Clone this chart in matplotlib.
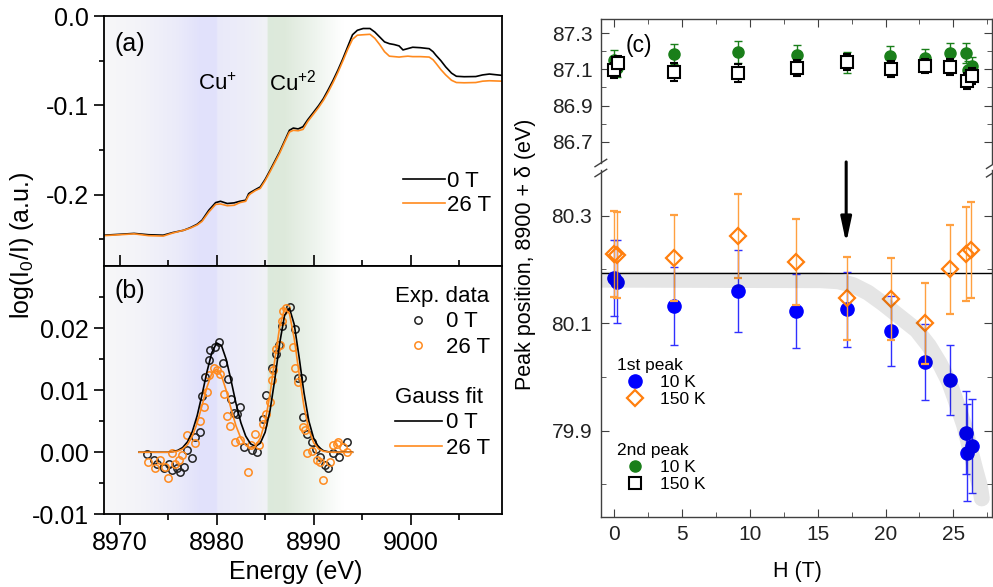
import matplotlib
matplotlib.use('Agg')
import matplotlib.pyplot as plt
import numpy as np
from matplotlib.lines import Line2D
from matplotlib.ticker import MultipleLocator, FixedLocator, FuncFormatter

plt.rcParams['font.family'] = ['Liberation Sans', 'DejaVu Sans']
plt.rcParams['mathtext.fontset'] = 'custom'
plt.rcParams['mathtext.rm'] = 'Liberation Sans'
plt.rcParams['mathtext.it'] = 'Liberation Sans:italic'
plt.rcParams['axes.unicode_minus'] = False

orange = '#ff8a1e'
blue = '#0000ff'
green = '#1a7f1a'

# ---- (a) XANES spectra ----
xas_energy = [8968.4, 8970.0, 8971.5, 8973.0, 8974.5, 8975.5, 8976.6, 8977.3, 8978.0, 8978.5,
              8979.2, 8979.9, 8980.4, 8981.1, 8981.8, 8982.4, 8983.0, 8983.3, 8983.5, 8984.0,
              8984.5, 8985.0, 8985.5, 8986.0, 8986.5, 8987.0, 8987.5, 8987.9, 8988.4, 8988.9,
              8989.4, 8989.9, 8990.5, 8991.0, 8991.5, 8992.0, 8992.5, 8993.0, 8993.5, 8994.0,
              8994.5, 8995.1, 8995.8, 8996.3, 8996.8, 8997.3, 8997.8, 8998.3, 8998.8, 8999.2,
              8999.7, 9000.2, 9001.0, 9001.9, 9002.3, 9002.6, 9003.1, 9003.6, 9004.2, 9004.7,
              9005.5, 9006.7, 9007.4, 9008.1, 9009.4]
xas_0T = [-0.2455, -0.2445, -0.2435, -0.2450, -0.2455, -0.2425, -0.2400, -0.2370, -0.2332, -0.2287,
          -0.2175, -0.2090, -0.2075, -0.2100, -0.2093, -0.2075, -0.2063, -0.1990, -0.1975, -0.1944,
          -0.1914, -0.1830, -0.1730, -0.1625, -0.1520, -0.1400, -0.1280, -0.1255, -0.1265, -0.1240,
          -0.1160, -0.1090, -0.1005, -0.0925, -0.0825, -0.0720, -0.0605, -0.0480, -0.0345, -0.0210,
          -0.0160, -0.0140, -0.0140, -0.0180, -0.0235, -0.0290, -0.0310, -0.0320, -0.0335, -0.0380,
          -0.0365, -0.0350, -0.0355, -0.0366, -0.0400, -0.0440, -0.0500, -0.0570, -0.0640, -0.0675,
          -0.0680, -0.0678, -0.0660, -0.0650, -0.0665]
xas_26T = [-0.2460, -0.2450, -0.2440, -0.2460, -0.2465, -0.2430, -0.2400, -0.2375, -0.2340, -0.2300,
           -0.2195, -0.2110, -0.2105, -0.2125, -0.2120, -0.2090, -0.2075, -0.2010, -0.1990, -0.1955,
           -0.1930, -0.1845, -0.1745, -0.1640, -0.1535, -0.1415, -0.1300, -0.1280, -0.1285, -0.1270,
           -0.1180, -0.1110, -0.1025, -0.0945, -0.0850, -0.0745, -0.0630, -0.0505, -0.0375, -0.0260,
           -0.0215, -0.0210, -0.0205, -0.0250, -0.0320, -0.0400, -0.0450, -0.0455, -0.0460, -0.0455,
           -0.0450, -0.0455, -0.0455, -0.0460, -0.0490, -0.0530, -0.0600, -0.0660, -0.0720, -0.0745,
           -0.0748, -0.0745, -0.0730, -0.0725, -0.0730]

# ---- (b) difference spectra and Gauss fits ----
diff_E_0T = [8972.84, 8973.60, 8973.87, 8974.56, 8975.07, 8975.41, 8975.93, 8976.27, 8976.61, 8976.95,
             8977.47, 8977.81, 8978.26, 8978.50, 8978.84, 8979.18, 8979.28, 8979.87, 8980.21, 8980.65,
             8981.13, 8981.48, 8981.75, 8982.09, 8982.37, 8982.78, 8983.63, 8984.15, 8984.83, 8985.11,
             8985.69, 8986.10, 8986.47, 8986.72, 8987.57, 8988.09, 8988.40, 8988.78, 8988.88, 8989.30,
             8989.80, 8990.20, 8990.66, 8991.17, 8991.51, 8992.03, 8992.64, 8993.40]
diff_0T = [-0.0003, -0.0013, -0.0019, -0.0026, -0.0019, -0.0029, -0.0025, -0.0032, -0.0024, 0.0003,
           -0.0009, 0.0025, 0.0033, 0.0090, 0.0121, 0.0148, 0.0165, 0.0170, 0.0177, 0.0143,
           0.0118, 0.0086, 0.0063, 0.0062, 0.0073, 0.0009, 0.0003, 0.0001, 0.0054, 0.0092,
           0.0135, 0.0158, 0.0172, 0.0204, 0.0234, 0.0199, 0.0119, 0.0119, 0.0057, 0.0030,
           0.0017, 0.0005, -0.0008, -0.0021, -0.0026, -0.0002, -0.0008, 0.0017]
diff_E_26T = [8972.95, 8973.70, 8974.21, 8974.66, 8975.00, 8975.41, 8975.76, 8976.10, 8976.44, 8976.95,
              8977.81, 8978.26, 8978.74, 8979.01, 8979.18, 8979.69, 8980.04, 8980.38, 8980.72, 8981.07,
              8981.41, 8981.92, 8982.44, 8983.19, 8983.57, 8983.98, 8984.32, 8984.83, 8985.11, 8985.45,
              8985.69, 8985.86, 8986.14, 8986.48, 8986.72, 8986.89, 8987.13, 8987.92, 8988.09, 8988.36,
              8988.95, 8989.12, 8989.29, 8989.80, 8990.32, 8990.66, 8990.93, 8991.68, 8992.03, 8992.37,
              8992.54, 8992.99, 8993.40]
diff_26T = [-0.0016, -0.0026, -0.0013, -0.0023, -0.0042, -0.0001, -0.0019, -0.0012, -0.0005, 0.0027,
            0.0015, 0.0051, 0.0073, 0.0097, 0.0124, 0.0135, 0.0132, 0.0126, 0.0094, 0.0059,
            0.0043, 0.0017, 0.0019, -0.0032, 0.0011, 0.0030, 0.0011, 0.0046, 0.0062, 0.0081,
            0.0116, 0.0132, 0.0167, 0.0172, 0.0212, 0.0228, 0.0233, 0.0169, 0.0135, 0.0113,
            0.0041, 0.0035, -0.0001, 0.0002, -0.0013, -0.0016, -0.0045, -0.0016, 0.0011, 0.0014,
            0.0017, 0.0009, 0.0001]
fit_E = np.arange(8972.0, 8994.5, 0.5)
fit_0T = [0, 0, 0, 0, 0, 0, 0,
          0.0001, 0.0003, 0.00075, 0.00167, 0.00333, 0.0059, 0.00927, 0.01292, 0.01601, 0.01761,
          0.01719, 0.0149, 0.01148, 0.00784, 0.00476, 0.00259, 0.00135, 0.00094, 0.00146, 0.00322,
          0.00667, 0.01179, 0.01759, 0.02204, 0.02322, 0.02056, 0.01531, 0.00958, 0.00504, 0.00223,
          0.00083, 0.00026, 0.00007,
          0, 0, 0, 0, 0]
fit_26T = [0, 0, 0, 0, 0, 0, 0,
           0.00006, 0.00019, 0.00051, 0.00123, 0.00258, 0.00472, 0.00753, 0.01046, 0.01268, 0.01339,
           0.01233, 0.0099, 0.00693, 0.00423, 0.00225, 0.00111, 0.00069, 0.00098, 0.00225, 0.00493,
           0.00934, 0.01494, 0.02021, 0.02312, 0.02236, 0.01828, 0.01263, 0.00738, 0.00365, 0.00152,
           0.00054, 0.00016, 0.00004,
           0, 0, 0, 0, 0]

# ---- (c) peak positions vs field ----
H_p1_10K = [0.0, 0.22, 4.42, 9.14, 13.42, 17.18, 20.38, 22.91, 24.76, 25.94, 26.03, 26.36]
p1_10K = [80.184, 80.177, 80.132, 80.160, 80.123, 80.126, 80.086, 80.028, 79.994, 79.896, 79.859, 79.872]
p1_10K_err = [0.071, 0.077, 0.072, 0.076, 0.069, 0.070, 0.065, 0.070, 0.065, 0.077, 0.090, 0.087]
H_p1_150K = [0.0, 0.22, 4.42, 9.14, 13.42, 17.18, 20.38, 22.91, 24.76, 25.94, 26.33]
p1_150K = [80.228, 80.227, 80.221, 80.262, 80.213, 80.146, 80.145, 80.100, 80.200, 80.229, 80.236]
p1_150K_err = [0.080, 0.080, 0.080, 0.078, 0.080, 0.078, 0.077, 0.075, 0.083, 0.088, 0.090]
H_p2_10K = [0.0, 0.22, 4.42, 9.14, 13.45, 17.18, 20.33, 22.91, 24.76, 25.90, 26.10, 26.36]
p2_10K = [87.150, 87.110, 87.184, 87.195, 87.180, 87.140, 87.174, 87.165, 87.189, 87.193, 87.097, 87.119]
p2_10K_err = [0.060, 0.050, 0.055, 0.060, 0.055, 0.058, 0.055, 0.050, 0.055, 0.055, 0.050, 0.050]
H_p2_150K = [0.0, 0.30, 4.42, 9.14, 13.45, 17.14, 20.38, 22.91, 24.76, 25.98, 26.36]
p2_150K = [87.095, 87.135, 87.084, 87.078, 87.109, 87.143, 87.102, 87.120, 87.115, 87.036, 87.065]
p2_150K_err = [0.040, 0.040, 0.050, 0.050, 0.045, 0.045, 0.045, 0.040, 0.045, 0.045, 0.045]
guide_H = [-1.0, 15.2, 16.5, 17.6, 18.7, 19.8, 21.0, 22.3, 23.2, 24.0, 24.7, 25.25, 25.8, 26.2, 26.6, 26.97, 27.1]
guide_v = [80.181, 80.180, 80.178, 80.171, 80.157, 80.137, 80.113, 80.087, 80.058, 80.025, 79.990,
           79.951, 79.910, 79.870, 79.830, 79.796, 79.774]
ref_level = 80.193
arrow_H = 17.1

W, H = 993, 587
fig = plt.figure(figsize=(W / 100, H / 100), dpi=100)


def box(x0, y0, x1, y1):
    return [x0 / W, 1 - y1 / H, (x1 - x0) / W, (y1 - y0) / H]


ax_a = fig.add_axes(box(104, 16, 502, 266))
ax_b = fig.add_axes(box(104, 266, 502, 514.3))
ax_t = fig.add_axes(box(600.7, 19, 991.7, 163))
ax_c = fig.add_axes(box(600.7, 170, 991.7, 516.7))

# shaded background (Cu+ blue, Cu2+ green)
bg_E = np.linspace(8968.4, 9009.4, 1200)
stop_E = [8968.4, 8972.0, 8976.0, 8978.3, 8980.0, 8980.1, 8983.0, 8985.2, 8985.3, 8987.0, 8990.0, 8993.0, 9009.4]
stop_R = [0.97, 0.955, 0.92, 0.885, 0.885, 0.915, 0.93, 0.945, 0.865, 0.87, 0.93, 1.0, 1.0]
stop_G = [0.97, 0.955, 0.92, 0.885, 0.885, 0.915, 0.93, 0.95, 0.915, 0.915, 0.955, 1.0, 1.0]
stop_B = [0.975, 0.975, 0.98, 0.985, 0.985, 0.98, 0.975, 0.965, 0.86, 0.86, 0.93, 1.0, 1.0]
rgb = np.stack([np.interp(bg_E, stop_E, s) for s in (stop_R, stop_G, stop_B)], axis=-1)[None, :, :]
for ax, (lo, hi) in ((ax_a, (-0.28, 0.0)), (ax_b, (-0.01, 0.03))):
    ax.imshow(rgb, extent=(8968.4, 9009.4, lo, hi), aspect='auto', zorder=0, interpolation='bilinear')
    ax.set_xlim(8968.4, 9009.4)
    ax.set_ylim(lo, hi)
    for s in ax.spines.values():
        s.set_linewidth(1.3)
    ax.xaxis.set_major_locator(MultipleLocator(10))
    ax.xaxis.set_minor_locator(MultipleLocator(5))

# (a)
ax_a.plot(xas_energy, xas_0T, color='k', lw=1.2, label='0 T')
ax_a.plot(xas_energy, xas_26T, color=orange, lw=1.2, label='26 T')
ax_a.yaxis.set_major_locator(FixedLocator([-0.2, -0.1, 0.0]))
ax_a.yaxis.set_minor_locator(FixedLocator([-0.25, -0.15, -0.05]))
ax_a.yaxis.set_major_formatter(FuncFormatter(lambda v, p: '0.0' if abs(v) < 1e-9 else f'{v:.1f}'))
ax_a.tick_params(axis='x', which='both', direction='in', labelbottom=False, width=1.2)
ax_a.tick_params(axis='x', which='major', length=8)
ax_a.tick_params(axis='x', which='minor', length=4)
ax_a.tick_params(axis='y', which='both', direction='out', labelsize=18, width=1.2, pad=4)
ax_a.tick_params(axis='y', which='major', length=7)
ax_a.tick_params(axis='y', which='minor', length=3.5)
ax_a.legend(loc='upper left', bbox_to_anchor=((403 - 104) / 398, (266 - 171) / 250), frameon=False,
            fontsize=16, handlelength=1.9, handletextpad=0.1, borderpad=0, borderaxespad=0, labelspacing=0.12)

# (b)
ax_b.plot(diff_E_0T, diff_0T, 'o', ms=5.3, mfc='none', mec='#222222', mew=1.1, zorder=2)
ax_b.plot(diff_E_26T, diff_26T, 'o', ms=5.3, mfc='none', mec=orange, mew=1.1, zorder=2.1)
ax_b.plot(fit_E, fit_0T, color='k', lw=1.2, zorder=3)
ax_b.plot(fit_E, fit_26T, color=orange, lw=1.2, zorder=3.1)
ax_b.yaxis.set_major_locator(FixedLocator([-0.01, 0.0, 0.01, 0.02]))
ax_b.yaxis.set_minor_locator(FixedLocator([-0.005, 0.005, 0.015, 0.025]))
ax_b.yaxis.set_major_formatter(FuncFormatter(lambda v, p: '0.00' if abs(v) < 1e-9 else f'{v:.2f}'))
ax_b.tick_params(which='both', direction='out', labelsize=18, width=1.2, pad=4)
ax_b.tick_params(which='major', length=8)
ax_b.tick_params(which='minor', length=4)
ax_b.tick_params(axis='y', which='major', length=7)
ax_b.tick_params(axis='y', which='minor', length=3.5)
exp_handles = [Line2D([], [], ls='none', marker='o', ms=5.3, mfc='none', mec='#222222', mew=1.1, label='0 T'),
               Line2D([], [], ls='none', marker='o', ms=5.3, mfc='none', mec=orange, mew=1.1, label='26 T')]
fit_handles = [Line2D([], [], color='k', lw=1.2, label='0 T'),
               Line2D([], [], color=orange, lw=1.2, label='26 T')]
leg_kw = dict(loc='upper left', frameon=False, fontsize=16, title_fontsize=16, handlelength=2.1,
              handletextpad=0.2, borderpad=0, borderaxespad=0, labelspacing=0.2, alignment='left')
leg1 = ax_b.legend(handles=exp_handles, title='Exp. data',
                   bbox_to_anchor=((395 - 104) / 398, (514.3 - 286) / 248.3), **leg_kw)
ax_b.add_artist(leg1)
ax_b.legend(handles=fit_handles, title='Gauss fit',
            bbox_to_anchor=((395 - 104) / 398, (514.3 - 387) / 248.3), **leg_kw)

# (c) broken axis
spine_col = '#404040'
for ax in (ax_t, ax_c):
    ax.set_xlim(-1.0, 27.83)
    for s in ax.spines.values():
        s.set_color(spine_col)
        s.set_linewidth(1.0)
    ax.xaxis.set_major_locator(MultipleLocator(5))
    ax.xaxis.set_minor_locator(MultipleLocator(2.5))
    ax.yaxis.set_major_formatter(FuncFormatter(lambda v, p: f'{v:.1f}'))
    ax.tick_params(which='both', direction='in', colors=spine_col, labelcolor='#222222',
                   labelsize=15, left=True, right=True, pad=6)
    ax.tick_params(which='major', length=5.5)
    ax.tick_params(which='minor', length=3.5)
ax_t.spines['bottom'].set_visible(False)
ax_c.spines['top'].set_visible(False)
ax_t.tick_params(which='both', top=True, bottom=False, labelbottom=False)
ax_c.tick_params(which='both', top=False, bottom=True)
ax_t.set_ylim(86.582, 87.379)
ax_c.set_ylim(79.74, 80.385)
ax_t.yaxis.set_major_locator(FixedLocator([86.7, 86.9, 87.1, 87.3]))
ax_t.yaxis.set_minor_locator(FixedLocator([86.8, 87.0, 87.2]))
ax_c.yaxis.set_major_locator(FixedLocator([79.9, 80.1, 80.3]))
ax_c.yaxis.set_minor_locator(FixedLocator([79.8, 80.0, 80.2]))

ax_t.errorbar(H_p2_10K, p2_10K, yerr=p2_10K_err, fmt='o', ms=8, color=green, ecolor=green,
              elinewidth=1, capsize=3, capthick=1, zorder=2)
ax_t.errorbar(H_p2_150K, p2_150K, yerr=p2_150K_err, fmt='s', ms=8, mfc='white', mec='k', mew=1.5,
              ecolor='k', elinewidth=1, capsize=3, capthick=1, zorder=3)

ax_c.axhline(ref_level, color='k', lw=1.0, zorder=1)
ax_c.errorbar(H_p1_10K, p1_10K, yerr=p1_10K_err, fmt='o', ms=9.5, color=blue, ecolor='#3030ff',
              elinewidth=1, capsize=3, capthick=1, zorder=2)
ax_c.errorbar(H_p1_150K, p1_150K, yerr=p1_150K_err, fmt='D', ms=8.5, mfc='none', mec='#ff7f0e', mew=1.6,
              ecolor='#ffa040', elinewidth=1, capsize=3, capthick=1, zorder=3)
ax_c.plot(guide_H, guide_v, color='k', alpha=0.1, lw=11.5, solid_capstyle='round', zorder=4)
ax_c.annotate('', xy=(arrow_H, 80.249), xytext=(arrow_H, 80.40), annotation_clip=False,
              arrowprops=dict(arrowstyle='-|>,head_length=0.75,head_width=0.16', color='k', lw=2.2,
                              mutation_scale=20, shrinkA=0, shrinkB=0))

h1 = [Line2D([], [], ls='none', marker='o', ms=9.5, color=blue, label='10 K'),
      Line2D([], [], ls='none', marker='D', ms=8.5, mfc='none', mec='#ff7f0e', mew=1.6, label='150 K')]
h2 = [Line2D([], [], ls='none', marker='o', ms=8, color=green, label='10 K'),
      Line2D([], [], ls='none', marker='s', ms=8, mfc='white', mec='k', mew=1.5, label='150 K')]
legc_kw = dict(loc='upper left', frameon=False, fontsize=12.5, title_fontsize=12.5, handlelength=2.07,
               handletextpad=0.4, borderpad=0, borderaxespad=0, labelspacing=0.1, alignment='left')
lc1 = ax_c.legend(handles=h1, title='1st peak', bbox_to_anchor=((617 - 600.7) / 391, (516.7 - 358) / 346.7), **legc_kw)
ax_c.add_artist(lc1)
ax_c.legend(handles=h2, title='2nd peak', bbox_to_anchor=((617 - 600.7) / 391, (516.7 - 443) / 346.7), **legc_kw)

# break marks
for (x0, y0, x1, y1) in ((595, 166.7, 606.7, 159.3), (595, 176.7, 606.7, 169.3),
                         (986.5, 168.5, 995, 163.0), (986.5, 177.0, 995, 171.5)):
    fig.add_artist(Line2D([x0 / W, x1 / W], [1 - y0 / H, 1 - y1 / H], color=spine_col, lw=1.0))

# texts
fig.text(115 / W, 1 - 51.5 / H, '(a)', fontsize=18, va='baseline')
fig.text(115 / W, 1 - 298.3 / H, '(b)', fontsize=18, va='baseline')
fig.text(626 / W, 1 - 51.7 / H, '(c)', fontsize=16.5, va='baseline')
fig.text(198 / W, 1 - 90 / H, 'Cu$^{+}$', fontsize=16, va='baseline')
fig.text(269 / W, 1 - 90 / H, 'Cu$^{+2}$', fontsize=16, va='baseline')
fig.text(295.6 / W, 1 - 571.7 / H, 'Energy (eV)', fontsize=18, ha='center', va='center')
fig.text(22 / W, 1 - 245 / H, 'log(I$_{0}$/I) (a.u.)', fontsize=18, ha='center', va='center', rotation=90)
fig.text(797 / W, 1 - 571.7 / H, 'H (T)', fontsize=15.5, ha='center', va='center')
fig.text(525 / W, 1 - 254 / H, 'Peak position, 8900 + δ (eV)', fontsize=15.5, ha='center', va='center', rotation=90)

plt.savefig('out.png', dpi=100)
